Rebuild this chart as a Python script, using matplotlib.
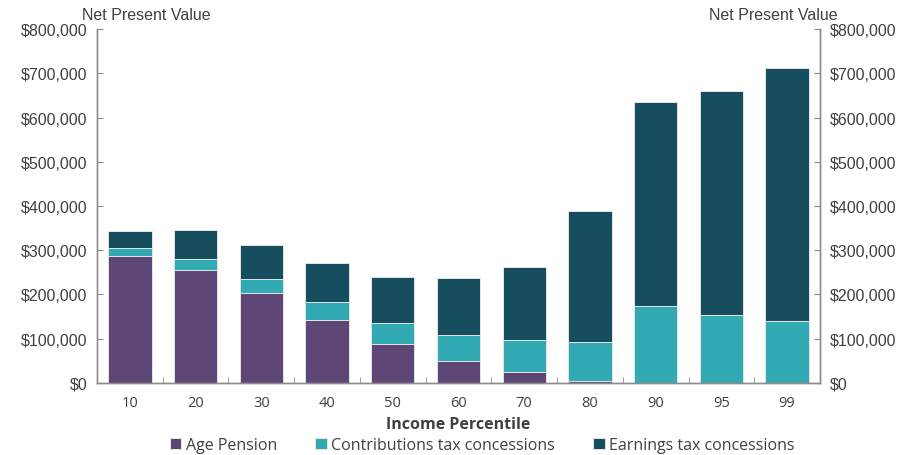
import matplotlib
matplotlib.use("Agg")
import matplotlib.pyplot as plt
import numpy as np
from matplotlib.ticker import FuncFormatter

percentiles = ['10', '20', '30', '40', '50', '60', '70', '80', '90', '95', '99']
age_pension = [288000, 255000, 203000, 142000, 88000, 50000, 24000, 4000, 0, 0, 0]
contrib_concessions = [17000, 26000, 31000, 41000, 48000, 58000, 72000, 89000, 174000, 153000, 141000]
earnings_concessions = [38000, 65000, 79000, 89000, 104000, 129000, 166000, 295000, 461000, 507000, 571000]

purple = '#5e4776'
cyan = '#31aab4'
dark = '#174e5f'
text_col = '#404040'
spine_col = '#8c8c8c'

fig = plt.figure(figsize=(9.17, 4.56), dpi=100)
ax = fig.add_axes([0.1058, 0.158, 0.7884, 0.776])

x = np.arange(len(percentiles))
w = 0.66
age = np.array(age_pension)
con = np.array(contrib_concessions)
ear = np.array(earnings_concessions)

edge = dict(edgecolor='#e4e4e4', linewidth=0.7)
ax.bar(x, age, w, color=purple, label='Age Pension', **edge)
ax.bar(x, con, w, bottom=age, color=cyan, label='Contributions tax concessions', **edge)
ax.bar(x, ear, w, bottom=age + con, color=dark, label='Earnings tax concessions', **edge)

ax.set_xlim(-0.5, len(percentiles) - 0.5)
ax.set_ylim(0, 800000)
ax.set_yticks(np.arange(0, 800001, 100000))
fmt = FuncFormatter(lambda v, p: f'${v:,.0f}')
ax.yaxis.set_major_formatter(fmt)

# category labels, tick marks sit between the bars
ax.set_xticks(x)
ax.set_xticklabels(percentiles, fontsize=10.5, color=text_col, family='Open Sans')
ax.tick_params(axis='x', length=0, pad=9)
ax.set_xticks(np.arange(0.5, len(percentiles) - 1, 1), minor=True)
ax.tick_params(axis='x', which='minor', direction='in', length=4, color=spine_col)

ax.tick_params(axis='y', direction='in', length=4, color=spine_col,
               labelsize=11.5, labelcolor=text_col, pad=7)
for lab in ax.get_yticklabels():
    lab.set_family('Liberation Sans')

ax2 = ax.twinx()
ax2.set_ylim(ax.get_ylim())
ax2.set_yticks(np.arange(0, 800001, 100000))
ax2.yaxis.set_major_formatter(fmt)
ax2.tick_params(axis='y', direction='in', length=4, color=spine_col,
                labelsize=11.5, labelcolor=text_col, pad=7)
for lab in ax2.get_yticklabels():
    lab.set_family('Liberation Sans')

for a in (ax, ax2):
    a.spines['top'].set_visible(False)
    for s in ('left', 'right', 'bottom'):
        a.spines[s].set_color(spine_col)
        a.spines[s].set_linewidth(1.0)

ax.set_xlabel('Income Percentile', fontsize=11.5, fontweight='bold',
              color=text_col, family='Open Sans', labelpad=4)

fig.text(82 / 917, 1 - 16 / 456, 'Net Present Value', fontsize=11.5,
         color=text_col, family='Liberation Sans', va='center', ha='left')
fig.text(838 / 917, 1 - 16 / 456, 'Net Present Value', fontsize=11.5,
         color=text_col, family='Liberation Sans', va='center', ha='right')

handles, labels = ax.get_legend_handles_labels()
fig.legend(handles, labels, loc='center', bbox_to_anchor=(0.526, 1 - 446 / 456),
           ncol=3, frameon=False, handlelength=0.7, handleheight=0.7,
           handletextpad=0.3, columnspacing=2.4, labelcolor=text_col,
           prop={'family': 'Open Sans', 'size': 11.5})

fig.savefig('out.png', dpi=100)
